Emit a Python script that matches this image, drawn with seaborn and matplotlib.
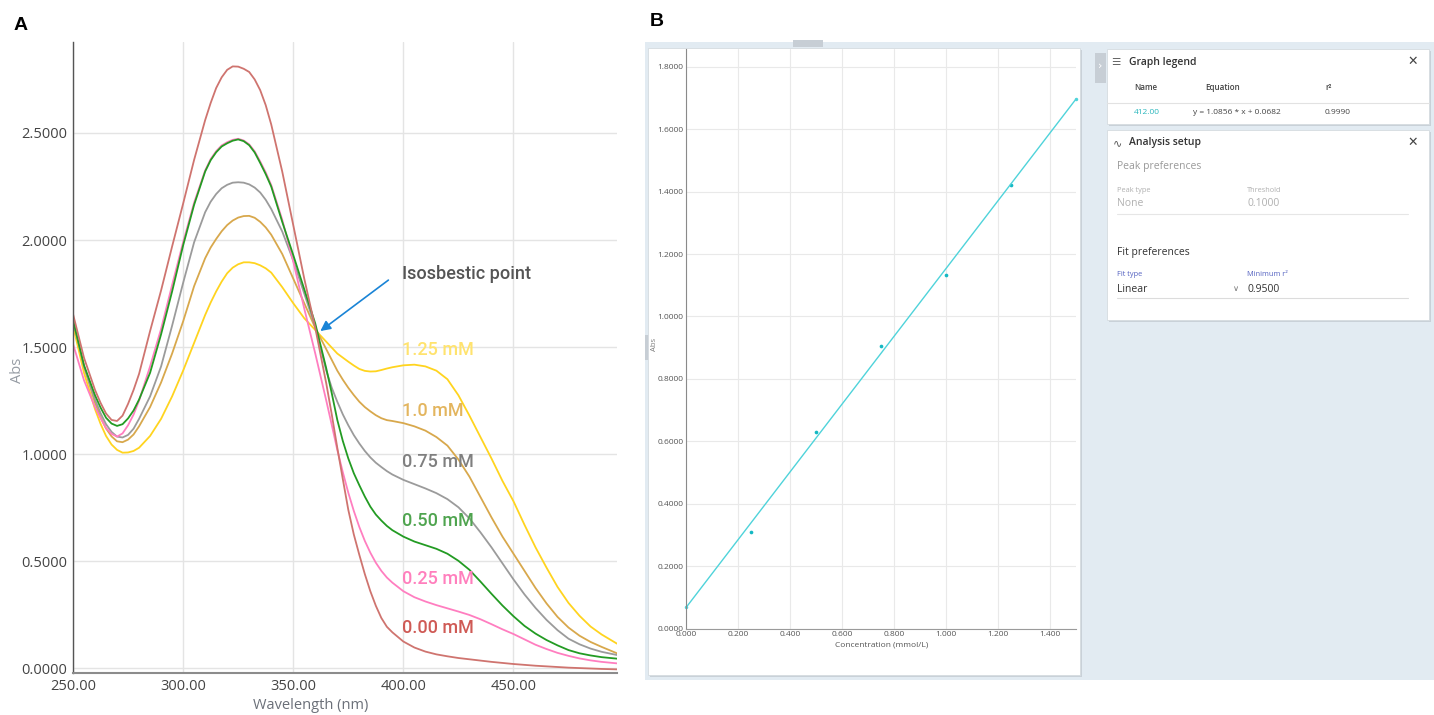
import numpy as np
import pandas as pd
import matplotlib
matplotlib.use("Agg")
import matplotlib.pyplot as plt
from matplotlib.patches import Rectangle
from matplotlib.lines import Line2D
import seaborn as sns

sns.set_theme(style="white")
plt.rcParams['font.family'] = ['Open Sans', 'DejaVu Sans']

# ============================
# DATA - panel A (UV-Vis spectra)
# ============================
wavelength = [250, 255, 260, 262.5, 265, 267.5, 270, 272.5, 275, 277.5, 280,
              285, 290, 295, 300, 305, 310,
              312.5, 315, 317.5, 320, 322.5, 325, 327.5, 330, 332.5, 335, 337.5, 340,
              345, 350, 355, 360, 365,
              367.5, 370, 372.5, 375, 377.5, 380, 382.5, 385, 387.5, 390, 392.5, 395,
              400, 405, 410, 415, 420, 425, 430, 435, 440, 445,
              450, 455, 460, 465, 470, 475, 480, 485, 490, 497]

abs_000 = [1.655, 1.45, 1.30, 1.24, 1.19, 1.16, 1.155, 1.18, 1.235, 1.30, 1.375,
           1.575, 1.765, 1.97, 2.17, 2.375, 2.56,
           2.64, 2.71, 2.76, 2.795, 2.811, 2.81, 2.80, 2.785, 2.75, 2.70, 2.63, 2.54,
           2.32, 2.07, 1.82, 1.59, 1.33,
           1.185, 1.03, 0.884, 0.74, 0.625, 0.53, 0.44, 0.36, 0.292, 0.235, 0.194, 0.168,
           0.125, 0.097, 0.078, 0.065, 0.056, 0.048, 0.042, 0.036, 0.030, 0.025,
           0.020, 0.016, 0.012, 0.009, 0.006, 0.003, 0.001, -0.001, -0.003, -0.005]
abs_025 = [1.515, 1.345, 1.22, 1.168, 1.122, 1.095, 1.082, 1.097, 1.135, 1.185, 1.25,
           1.41, 1.585, 1.79, 1.99, 2.175, 2.325,
           2.378, 2.415, 2.442, 2.457, 2.468, 2.473, 2.465, 2.447, 2.414, 2.367, 2.316, 2.257,
           2.095, 1.90, 1.68, 1.47, 1.25,
           1.136, 1.02, 0.916, 0.82, 0.735, 0.66, 0.595, 0.54, 0.493, 0.455, 0.424, 0.40,
           0.36, 0.332, 0.312, 0.295, 0.28, 0.265, 0.249, 0.229, 0.206, 0.182,
           0.16, 0.135, 0.11, 0.09, 0.072, 0.058, 0.046, 0.037, 0.03, 0.023]
abs_050 = [1.626, 1.415, 1.275, 1.218, 1.17, 1.143, 1.132, 1.14, 1.167, 1.204, 1.255,
           1.38, 1.56, 1.76, 1.975, 2.165, 2.32,
           2.373, 2.41, 2.437, 2.452, 2.464, 2.47, 2.462, 2.443, 2.409, 2.36, 2.308, 2.25,
           2.085, 1.93, 1.77, 1.61, 1.40,
           1.284, 1.16, 1.062, 0.98, 0.911, 0.855, 0.802, 0.755, 0.718, 0.69, 0.665, 0.645,
           0.615, 0.592, 0.575, 0.558, 0.535, 0.502, 0.46, 0.405, 0.348, 0.293,
           0.243, 0.198, 0.162, 0.132, 0.107, 0.085, 0.07, 0.06, 0.052, 0.045]
abs_075 = [1.626, 1.41, 1.255, 1.192, 1.14, 1.104, 1.082, 1.078, 1.09, 1.119, 1.165,
           1.27, 1.41, 1.60, 1.80, 1.99, 2.13,
           2.179, 2.215, 2.242, 2.258, 2.268, 2.27, 2.268, 2.26, 2.245, 2.222, 2.188, 2.145,
           2.04, 1.905, 1.75, 1.595, 1.39,
           1.31, 1.245, 1.186, 1.135, 1.089, 1.05, 1.015, 0.985, 0.96, 0.94, 0.921, 0.905,
           0.88, 0.86, 0.84, 0.818, 0.79, 0.752, 0.70, 0.635, 0.565, 0.49,
           0.415, 0.345, 0.282, 0.226, 0.178, 0.138, 0.112, 0.092, 0.077, 0.062]
abs_100 = [1.626, 1.41, 1.24, 1.174, 1.12, 1.083, 1.06, 1.056, 1.068, 1.092, 1.13,
           1.22, 1.335, 1.47, 1.62, 1.785, 1.915,
           1.965, 2.005, 2.041, 2.07, 2.091, 2.105, 2.112, 2.113, 2.104, 2.085, 2.059, 2.025,
           1.935, 1.82, 1.705, 1.59, 1.49,
           1.44, 1.39, 1.348, 1.31, 1.276, 1.245, 1.22, 1.20, 1.182, 1.168, 1.159, 1.155,
           1.145, 1.13, 1.11, 1.08, 1.04, 0.975, 0.895, 0.80, 0.705, 0.615,
           0.535, 0.455, 0.375, 0.303, 0.24, 0.19, 0.152, 0.123, 0.10, 0.07]
abs_125 = [1.60, 1.38, 1.21, 1.142, 1.085, 1.045, 1.02, 1.007, 1.008, 1.015, 1.03,
           1.085, 1.165, 1.27, 1.39, 1.52, 1.65,
           1.708, 1.76, 1.806, 1.845, 1.871, 1.887, 1.896, 1.896, 1.892, 1.882, 1.868, 1.848,
           1.78, 1.705, 1.635, 1.58, 1.525,
           1.4975, 1.47, 1.451, 1.432, 1.414, 1.398, 1.389, 1.386, 1.387, 1.393, 1.40, 1.406,
           1.415, 1.418, 1.41, 1.39, 1.35, 1.275, 1.18, 1.08, 0.98, 0.875,
           0.78, 0.67, 0.565, 0.47, 0.38, 0.305, 0.245, 0.195, 0.158, 0.115]

conc_labels = ['0.00 mM', '0.25 mM', '0.50 mM', '0.75 mM', '1.0 mM', '1.25 mM']
spectra = [abs_000, abs_025, abs_050, abs_075, abs_100, abs_125]

# ============================
# DATA - panel B (calibration at 412 nm)
# ============================
conc = [0.25, 0.50, 0.75, 1.00, 1.25]
abs_412 = [0.310, 0.629, 0.905, 1.133, 1.421]
fit_slope = 1.0856
fit_intercept = 0.0682
fit_r2 = 0.9990
conc_range = [0.0, 1.5]

# ============================
# STYLE
# ============================
line_colors = {'0.00 mM': '#cf746f', '0.25 mM': '#ff7ec0', '0.50 mM': '#239b23',
               '0.75 mM': '#9b9b9b', '1.0 mM': '#d8a84c', '1.25 mM': '#ffd41f'}
label_colors = {'0.00 mM': '#cf5a55', '0.25 mM': '#ff7fbd', '0.50 mM': '#4fa44f',
                '0.75 mM': '#7f7f7f', '1.0 mM': '#e3b55e', '1.25 mM': '#ffe36e'}
label_y = {'0.00 mM': 0.187, '0.25 mM': 0.416, '0.50 mM': 0.687,
           '0.75 mM': 0.963, '1.0 mM': 1.201, '1.25 mM': 1.486}
draw_order = ['1.25 mM', '1.0 mM', '0.75 mM', '0.25 mM', '0.50 mM', '0.00 mM']

W, H = 1434, 715


def px_box(x0, y0, x1, y1):
    """pixel box (top-left origin) -> figure fraction [l, b, w, h]"""
    return [x0 / W, 1 - y1 / H, (x1 - x0) / W, (y1 - y0) / H]


def ptext(x, y, s, **kw):
    kw.setdefault('va', 'center')
    fig.text(x / W, 1 - y / H, s, **kw)


def prect(x0, y0, x1, y1, **kw):
    l, b, w, h = px_box(x0, y0, x1, y1)
    fig.add_artist(Rectangle((l, b), w, h, transform=fig.transFigure, **kw))


def pline(x0, x1, y, **kw):
    fig.add_artist(Line2D([x0 / W, x1 / W], [1 - y / H, 1 - y / H],
                          transform=fig.transFigure, **kw))


fig = plt.figure(figsize=(W / 100, H / 100), dpi=100)

# ============================
# PANEL A
# ============================
df_a = pd.DataFrame({
    'Wavelength': wavelength * len(spectra),
    'Abs': np.concatenate(spectra),
    'Conc': np.repeat(conc_labels, len(wavelength)),
})

ax_a = fig.add_axes(px_box(73, 42, 617, 673))
sns.lineplot(data=df_a, x='Wavelength', y='Abs', hue='Conc', hue_order=draw_order,
             palette=line_colors, lw=1.3, legend=False, errorbar=None, ax=ax_a,
             solid_joinstyle='round')
ax_a.set_xlim(250, 497)
ax_a.set_ylim(-0.022, 2.925)
xt = [250, 300, 350, 400, 450]
ax_a.set_xticks(xt)
ax_a.set_xticklabels([f"{v:.2f}" for v in xt])
yt = np.arange(0, 2.51, 0.5)
ax_a.set_yticks(yt)
ax_a.set_yticklabels([f"{v:.4f}" for v in yt])
ax_a.tick_params(labelsize=10.5, colors='#444444', length=0, pad=4)
ax_a.grid(True, color='#e4e4e4', lw=1)
for s in ['top', 'right']:
    ax_a.spines[s].set_visible(False)
ax_a.spines['left'].set_color('#555555')
ax_a.spines['left'].set_linewidth(1)
ax_a.spines['bottom'].set_color('#8c8c8c')
ax_a.spines['bottom'].set_linewidth(1.5)

ax_a.set_xlabel('Wavelength (nm)', fontsize=10.5, color='#6b7079')
ax_a.xaxis.set_label_coords(0.4375, -0.052)
ax_a.xaxis.label.set_va('center')
ax_a.set_ylabel('Abs', fontsize=10.5, color='#959ba3')
ax_a.yaxis.set_label_coords(-0.102, 0.48)
ax_a.yaxis.label.set_va('center')

for lab in conc_labels:
    ax_a.text(399.5, label_y[lab], lab, family='Roboto', fontsize=13,
              fontweight='medium', color=label_colors[lab], va='center', ha='left')

ax_a.text(399.5, 1.841, 'Isosbestic point', family='Roboto', fontsize=13,
          fontweight='medium', color='#555555', va='center', ha='left')
ax_a.annotate('', xy=(362.3, 1.575), xytext=(393.2, 1.813),
              arrowprops=dict(arrowstyle='-|>', color='#1a84d6', lw=1.2,
                              mutation_scale=15, shrinkA=0, shrinkB=0))

ptext(14, 25, 'A', family=['Liberation Sans', 'DejaVu Sans'], fontsize=14,
      fontweight='bold', color='black')
ptext(650, 22, 'B', family=['Liberation Sans', 'DejaVu Sans'], fontsize=14,
      fontweight='bold', color='black')

# ============================
# PANEL B - software screenshot
# ============================
prect(645, 42, 1434, 680, facecolor='#e2ebf2', edgecolor='none', zorder=-3)
prect(793, 40, 823, 47, facecolor='#c7ced5', edgecolor='none', zorder=-2)
prect(645, 335, 649, 360, facecolor='#c7ced5', edgecolor='none', zorder=-2)
prect(650, 50, 1082, 677, facecolor='#c9d1d8', edgecolor='none', zorder=-2)
prect(648, 48, 1080, 675, facecolor='white', edgecolor='#d5dbe0', lw=0.6, zorder=-1)

ax_b = fig.add_axes(px_box(686.3, 49.3, 1076, 628.5))
ax_b.set_xlim(0, 1.5)
ax_b.set_ylim(0, 1.856)
fit_x = np.array(conc_range)
fit_y = fit_slope * fit_x + fit_intercept
sns.lineplot(x=fit_x, y=fit_y, color='#4fd3da', lw=1.0, marker='o', markersize=2.5,
             markeredgewidth=0, ax=ax_b, clip_on=False)
sns.scatterplot(x=conc, y=abs_412, color='#14b8c3', s=7, linewidth=0, ax=ax_b)
bx = np.arange(0, 1.41, 0.2)
ax_b.set_xticks(bx)
ax_b.set_xticklabels([f"{v:.3f}" for v in bx])
by = np.arange(0, 1.81, 0.2)
ax_b.set_yticks(by)
ax_b.set_yticklabels([f"{v:.4f}" for v in by])
ax_b.tick_params(labelsize=6, colors='#555555', length=0, pad=2)
ax_b.grid(True, color='#e9e9e9', lw=0.8)
for s in ['top', 'right']:
    ax_b.spines[s].set_visible(False)
ax_b.spines['left'].set_color('#8a8a8a')
ax_b.spines['left'].set_linewidth(0.8)
ax_b.spines['bottom'].set_color('#9a9a9a')
ax_b.spines['bottom'].set_linewidth(0.8)
ax_b.set_xlabel('Concentration (mmol/L)', fontsize=6, color='#555555', labelpad=2)
ax_b.set_ylabel('Abs', fontsize=5.5, color='#7a7a7a')
ax_b.yaxis.set_label_coords(-0.072, 0.49)

# side tab
prect(1095, 53, 1106, 83, facecolor='#c7ced5', edgecolor='none', zorder=-2)
ptext(1100.5, 66, '›', family='DejaVu Sans', fontsize=8, color='white', ha='center')

# graph legend card
prect(1108.5, 51, 1431, 126, facecolor='#c9d1d8', edgecolor='none', zorder=-2)
prect(1106.7, 49, 1429.3, 124, facecolor='white', edgecolor='#d5dbe0', lw=0.6, zorder=-1)
ptext(1116, 62, '☰', family='DejaVu Sans', fontsize=7.5, color='#666666', ha='center')
ptext(1129, 62, 'Graph legend', fontsize=7.5, fontweight='semibold', color='#333333')
ptext(1413, 61, '✕', family='DejaVu Sans', fontsize=9, color='#444444', ha='center')
ptext(1134, 88, 'Name', fontsize=5.8, fontweight='semibold', color='#444444')
ptext(1205, 88, 'Equation', fontsize=5.8, fontweight='semibold', color='#444444')
ptext(1325, 87, 'r²', fontsize=5.8, fontweight='semibold', color='#444444')
pline(1107, 1429, 102.5, color='#e2e2e2', lw=0.8)
ptext(1134, 113, '412.00', fontsize=6, color='#2ab7bd')
ptext(1193, 113, f'y = {fit_slope:.4f} * x + {fit_intercept:.4f}', fontsize=6, color='#444444')
ptext(1325, 113, f'{fit_r2:.4f}', fontsize=6, color='#444444')

# analysis setup card
prect(1108.5, 132, 1431, 322, facecolor='#c9d1d8', edgecolor='none', zorder=-2)
prect(1106.7, 130, 1429.3, 320, facecolor='white', edgecolor='#d5dbe0', lw=0.6, zorder=-1)
ptext(1117, 143, '∿', family='DejaVu Sans', fontsize=8, color='#555555', ha='center')
ptext(1129, 143, 'Analysis setup', fontsize=7.5, fontweight='semibold', color='#333333')
ptext(1413, 142, '✕', family='DejaVu Sans', fontsize=9, color='#444444', ha='center')
ptext(1117, 167, 'Peak preferences', fontsize=7.5, color='#9a9a9a')
ptext(1117, 190, 'Peak type', fontsize=5.3, color='#b0b0b0')
ptext(1247, 190, 'Threshold', fontsize=5.3, color='#b0b0b0')
ptext(1117, 204, 'None', fontsize=7.5, color='#b0b0b0')
ptext(1247, 204, '0.1000', fontsize=7.5, color='#b0b0b0')
pline(1117, 1408, 213.5, color='#e6e6e6', lw=0.8)
ptext(1117, 252, 'Fit preferences', fontsize=7.5, color='#333333')
ptext(1117, 274, 'Fit type', fontsize=5.3, color='#5563c1')
ptext(1247, 274, 'Minimum r²', fontsize=5.3, color='#5563c1')
ptext(1117, 289, 'Linear', fontsize=7.5, color='#333333')
ptext(1236, 288, '∨', family='DejaVu Sans', fontsize=6, color='#777777', ha='center')
ptext(1247, 289, '0.9500', fontsize=7.5, color='#333333')
pline(1117, 1408, 298, color='#dcdcdc', lw=0.8)

fig.savefig('out.png', dpi=100, facecolor='white')
